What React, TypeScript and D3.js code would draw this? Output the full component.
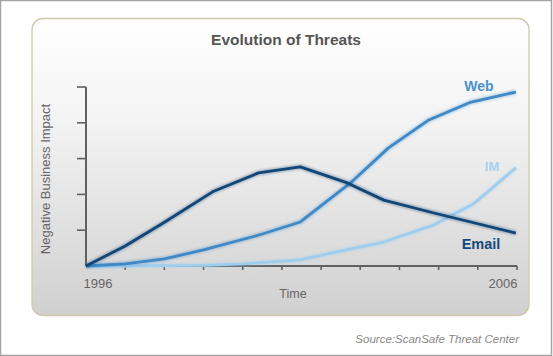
import React from "react";
import * as d3 from "d3";

const W = 553;
const H = 356;

const title = "Evolution of Threats";
const xLabels = ["1996", "2006"];
const xTickCount = 12; // tick positions 0..11
const yTickValues = [0, 1, 2, 3, 4, 5];

// [x position in tick units, impact]
const emailX = [0, 1, 1.97, 3.26, 4.4, 5.47, 6.67, 7.6, 8.88, 10.97];
const emailY = [0, 0.56, 1.2, 2.09, 2.6, 2.77, 2.32, 1.84, 1.48, 0.92];
const webX = [0, 1, 2, 3, 4.4, 5.47, 6.75, 7.72, 8.75, 9.83, 10.97];
const webY = [0, 0.06, 0.2, 0.45, 0.86, 1.23, 2.32, 3.3, 4.08, 4.58, 4.86];
const imX = [0, 3, 4, 5.47, 6.37, 7.6, 8.88, 9.88, 10.97];
const imY = [0, 0.02, 0.06, 0.17, 0.39, 0.67, 1.15, 1.73, 2.74];

const series = [
  { name: "IM", xs: imX, ys: imY, color: "#9fcdee" },
  { name: "Web", xs: webX, ys: webY, color: "#4089c7" },
  { name: "Email", xs: emailX, ys: emailY, color: "#124676" },
];

export default function App() {
  const x = d3.scaleLinear().domain([0, 11]).range([86, 517]);
  const y = d3.scaleLinear().domain([0, 5]).range([266, 87]);
  const line = d3
    .line<[number, number]>()
    .x((d) => x(d[0]))
    .y((d) => y(d[1]))
    .curve(d3.curveLinear);

  const ticksX = d3.range(xTickCount);
  const font = "'Liberation Sans', Arial, sans-serif";

  return (
    <svg
      width={W}
      height={H}
      style={{ position: "absolute", left: 0, top: 0 }}
      fontFamily={font}
    >
      <defs>
        <linearGradient id="bg" x1="0" y1="0" x2="0" y2="1">
          <stop offset="0" stopColor="#ffffff" />
          <stop offset="0.35" stopColor="#f3f3f3" />
          <stop offset="1" stopColor="#d0d0d0" />
        </linearGradient>
        <filter id="glow" x="-10%" y="-10%" width="120%" height="120%">
          <feGaussianBlur stdDeviation="1.2" />
        </filter>
      </defs>
      <rect x={0} y={0} width={W} height={H} fill="#fff" />
      <rect x={0.5} y={0.5} width={W - 2} height={H - 1} fill="none" stroke="#a4a4a4" strokeWidth={1.5} />
      <rect x={32} y={18.5} width={497} height={297} rx={11} fill="url(#bg)" stroke="#cfc8aa" strokeWidth={1.3} />

      <text x={286} y={45} textAnchor="middle" fontSize={15.5} fontWeight="bold" fill="#555">
        {title}
      </text>

      {/* y axis */}
      <line x1={x(0)} x2={x(0)} y1={y(5)} y2={y(0)} stroke="#606060" strokeWidth={2} />
      {yTickValues.slice(1).map((v) => (
        <line key={v} x1={x(0) - 9} x2={x(0)} y1={y(v)} y2={y(v)} stroke="#606060" strokeWidth={1.6} />
      ))}
      {/* x axis */}
      <line x1={x(0)} x2={x(11)} y1={y(0)} y2={y(0)} stroke="#606060" strokeWidth={2} />
      {ticksX.slice(1).map((t) => (
        <line key={t} x1={x(t)} x2={x(t)} y1={y(0)} y2={y(0) + 4} stroke="#606060" strokeWidth={1.6} />
      ))}

      {series.map((s) => {
        const pts = s.xs.map((v, i) => [v, s.ys[i]] as [number, number]);
        const d = line(pts) || "";
        return (
          <g key={s.name}>
            <path d={d} fill="none" stroke={s.color} strokeOpacity={0.35} strokeWidth={5} filter="url(#glow)" />
            <path d={d} fill="none" stroke={s.color} strokeWidth={2.8} strokeLinejoin="round" />
          </g>
        );
      })}

      <text x={479} y={91} textAnchor="middle" fontSize={14} fontWeight="bold" fill="#4a92cc">Web</text>
      <text x={492} y={171} textAnchor="middle" fontSize={13} fontWeight="bold" fill="#a5d0ef">IM</text>
      <text x={481} y={249} textAnchor="middle" fontSize={14.5} fontWeight="bold" fill="#154a7a">Email</text>

      <text x={98} y={288} textAnchor="middle" fontSize={13} fill="#666">{xLabels[0]}</text>
      <text x={503} y={288} textAnchor="middle" fontSize={13} fill="#666">{xLabels[1]}</text>
      <text x={293} y={298} textAnchor="middle" fontSize={12.5} fill="#666">Time</text>
      <text
        transform="translate(50,179) rotate(-90)"
        textAnchor="middle"
        fontSize={13}
        fill="#666"
      >
        Negative Business Impact
      </text>

      <text x={519} y={343} textAnchor="end" fontSize={11.5} fontStyle="italic" fill="#888">
        Source:ScanSafe Threat Center
      </text>
    </svg>
  );
}
